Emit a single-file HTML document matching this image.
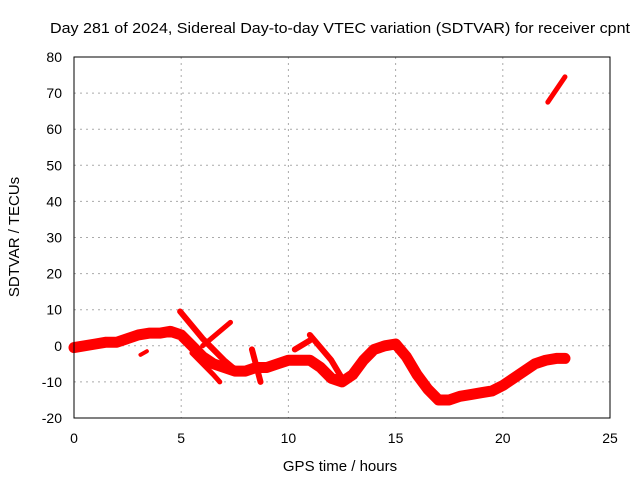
<!DOCTYPE html>
<html><head><meta charset="utf-8"><style>
body{margin:0;background:#fff}
svg{display:block;font-family:"Liberation Sans",sans-serif}
</style></head><body>
<svg id="c" width="640" height="480">
<text x="50" y="33" font-size="15" textLength="580" lengthAdjust="spacingAndGlyphs">Day 281 of 2024, Sidereal Day-to-day VTEC variation (SDTVAR) for receiver cpnt</text>
<text x="340" y="471" font-size="15" text-anchor="middle">GPS time / hours</text>
<text transform="translate(19,237) rotate(-90)" font-size="15" text-anchor="middle">SDTVAR / TECUs</text>
<g id="grid"></g><g id="series"></g>
<rect x="74" y="57" width="536" height="361" fill="none" stroke="#000" stroke-width="1"/>
</svg>
<script>
const xTicks=[0,5,10,15,20,25];
const yTicks=[-20,-10,0,10,20,30,40,50,60,70,80];
const mainX=[0,1,1.5,2,2.5,3,3.5,4,4.5,5,5.5,6,6.5,7,7.5,8,8.5,9,9.5,10,10.5,11,11.5,12,12.5,13,13.5,14,14.5,15,15.5,16,16.5,17,17.5,18,18.5,19,19.5,20,20.5,21,21.5,22,22.5,22.9];
const mainY=[-0.5,0.5,1,1,2,3,3.5,3.5,4,3,0,-3,-5,-6,-7,-7,-6,-6,-5,-4,-4,-4,-6,-9,-10,-8,-4,-1,0,0.5,-3,-8,-12,-15,-15,-14,-13.5,-13,-12.5,-11,-9,-7,-5,-4,-3.5,-3.5];
const branchA_X=[4.95,6,7,7.5], branchA_Y=[9.5,2,-4,-6.5];
const branchB_X=[6,7.3], branchB_Y=[0,6.5];
const branchC_X=[5.5,6.5,6.8], branchC_Y=[-2,-8,-10];
const branchD_X=[8.3,8.7], branchD_Y=[-1,-10];
const branchE_X=[11,12,12.5], branchE_Y=[3,-4,-9];
const branchF_X=[3.1,3.4], branchF_Y=[-2.5,-1.5];
const branchG_X=[22.1,22.9], branchG_Y=[67.5,74.5];
const branchH_X=[10.3,11], branchH_Y=[-1,1.5];
const sx=v=>74+v*536/25, sy=v=>57+(80-v)*361/100;
const NS="http://www.w3.org/2000/svg";
const grid=document.getElementById('grid'), ser=document.getElementById('series');
function mk(t,a,p){const e=document.createElementNS(NS,t);for(const k in a)e.setAttribute(k,a[k]);p.appendChild(e);return e;}
xTicks.forEach(v=>{const x=sx(v);
 if(v>0&&v<25){const l=mk('line',{x1:x,x2:x,y1:57,y2:418,stroke:'#aaa','stroke-dasharray':'2,4'},grid);
 
 }
 const t=mk('text',{x:x,y:443,'font-size':14,'text-anchor':'middle'},grid);t.textContent=v;
 
 });
yTicks.forEach(v=>{const y=sy(v);
 if(v>-20&&v<80){const l=mk('line',{x1:74,x2:610,y1:y,y2:y,stroke:'#aaa','stroke-dasharray':'2,4'},grid);
 
 }
 const t=mk('text',{x:62,y:y+5,'font-size':14,'text-anchor':'end'},grid);t.textContent=v;
 
 });
function line(xs,ys,w,name){const p=mk('polyline',{points:xs.map((x,i)=>sx(x)+','+sy(ys[i])).join(' '),fill:'none',stroke:'#f00','stroke-width':w,'stroke-linejoin':'round','stroke-linecap':'round'},ser);
 
 }
line(mainX,mainY,11,'sdtvar-main-band');
line(branchA_X,branchA_Y,6,'sdtvar-branch-a');
line(branchB_X,branchB_Y,5,'sdtvar-branch-b');
line(branchC_X,branchC_Y,5,'sdtvar-branch-c');
line(branchD_X,branchD_Y,6,'sdtvar-branch-d');
line(branchE_X,branchE_Y,6,'sdtvar-branch-e');
line(branchF_X,branchF_Y,4,'sdtvar-branch-f');
line(branchG_X,branchG_Y,5,'sdtvar-branch-g');
line(branchH_X,branchH_Y,6,'sdtvar-branch-h');
</script>
</body></html>
